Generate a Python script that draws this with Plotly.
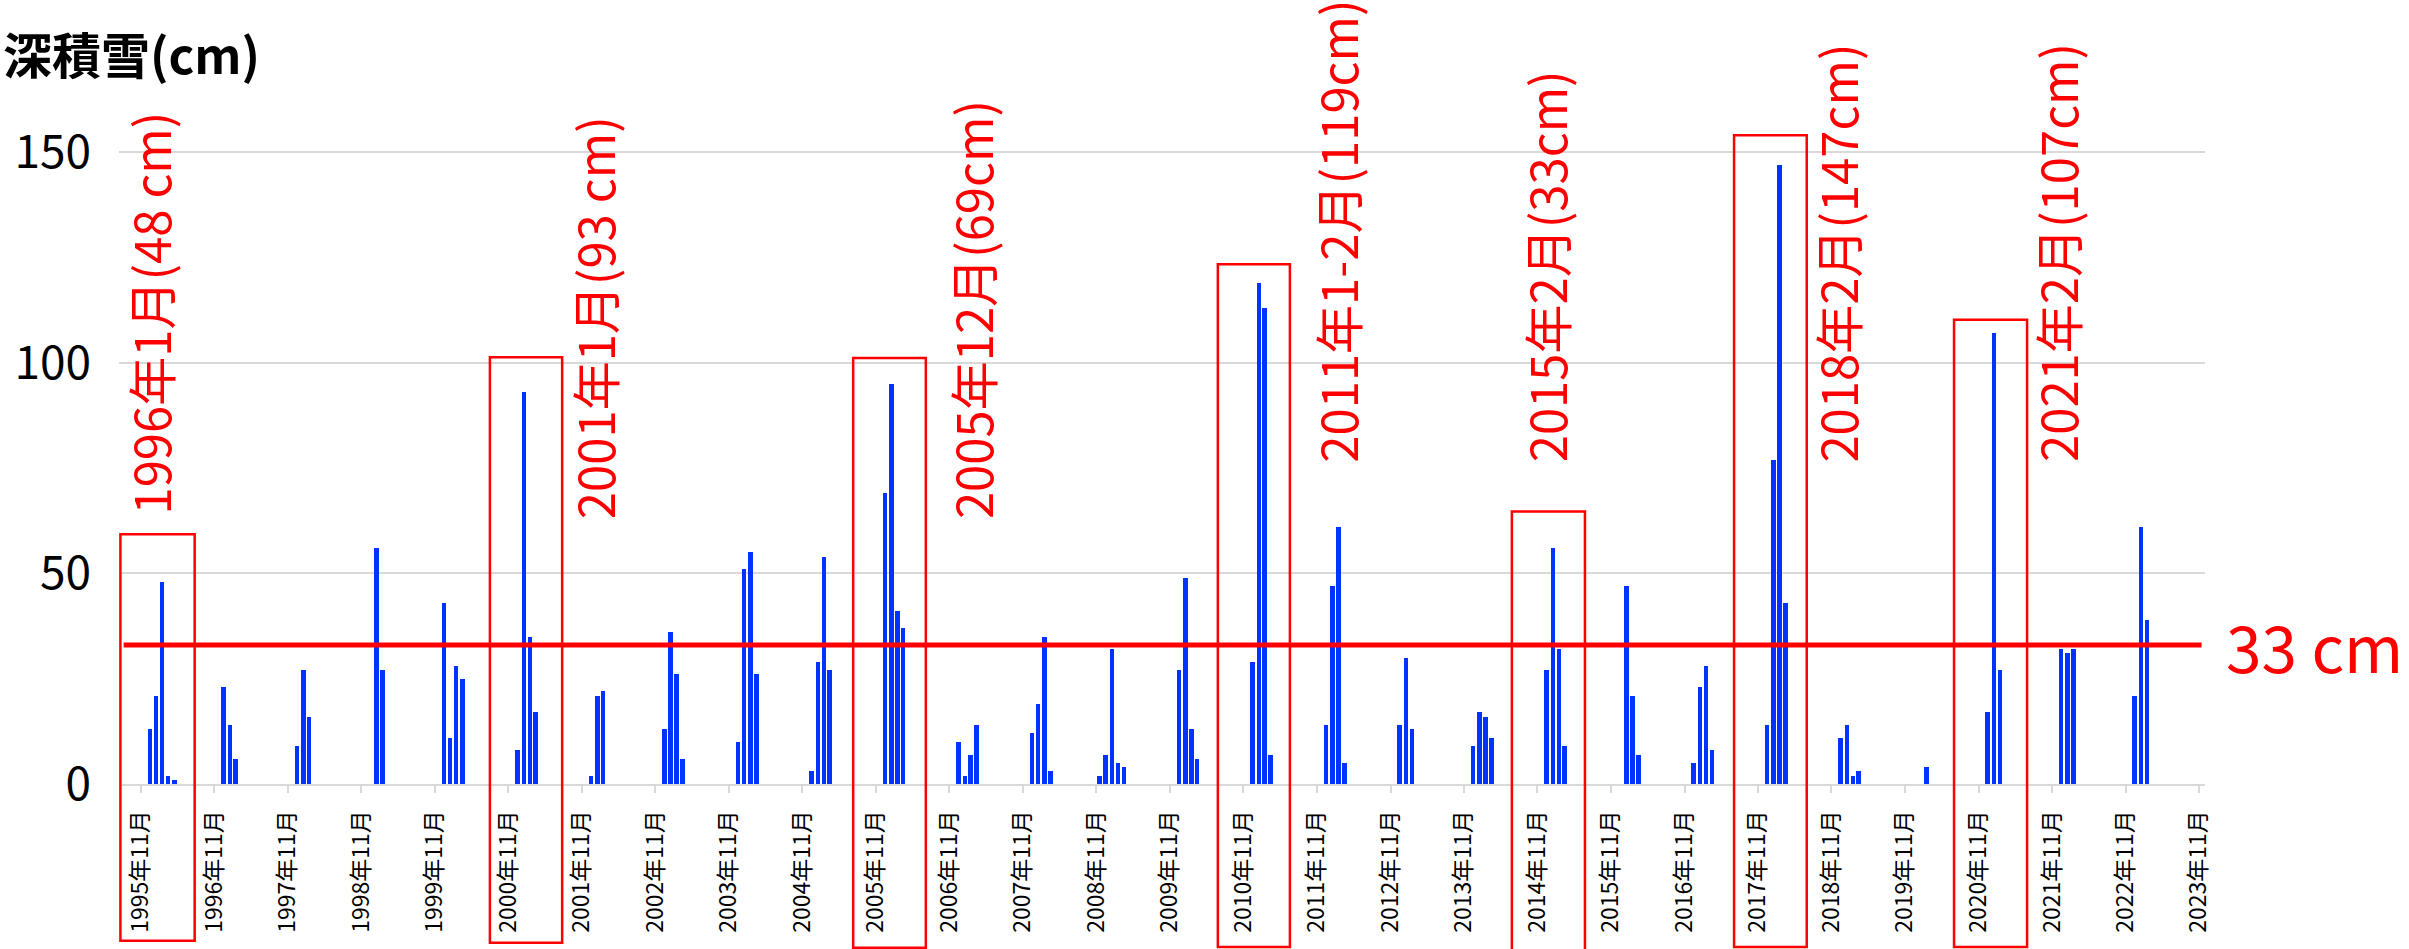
import plotly.graph_objects as go

FONT = "Noto Sans CJK JP"

# ---- data: monthly maximum snow depth (cm) ----
month = [
    "1995-12", "1996-01", "1996-02", "1996-03", "1996-04",
    "1996-12", "1997-01", "1997-02",
    "1997-12", "1998-01", "1998-02",
    "1999-01", "1999-02",
    "1999-12", "2000-01", "2000-02", "2000-03",
    "2000-12", "2001-01", "2001-02", "2001-03",
    "2001-12", "2002-01", "2002-02",
    "2002-12", "2003-01", "2003-02", "2003-03",
    "2003-12", "2004-01", "2004-02", "2004-03",
    "2004-12", "2005-01", "2005-02", "2005-03",
    "2005-12", "2006-01", "2006-02", "2006-03",
    "2006-12", "2007-01", "2007-02", "2007-03",
    "2007-12", "2008-01", "2008-02", "2008-03",
    "2008-11", "2008-12", "2009-01", "2009-02", "2009-03",
    "2009-12", "2010-01", "2010-02", "2010-03",
    "2010-12", "2011-01", "2011-02", "2011-03",
    "2011-12", "2012-01", "2012-02", "2012-03",
    "2012-12", "2013-01", "2013-02",
    "2013-12", "2014-01", "2014-02", "2014-03",
    "2014-12", "2015-01", "2015-02", "2015-03",
    "2016-01", "2016-02", "2016-03",
    "2016-12", "2017-01", "2017-02", "2017-03",
    "2017-12", "2018-01", "2018-02", "2018-03",
    "2018-12", "2019-01", "2019-02", "2019-03",
    "2020-02",
    "2020-12", "2021-01", "2021-02",
    "2021-12", "2022-01", "2022-02",
    "2022-12", "2023-01", "2023-02",
]
depth = [
    13, 21, 48, 2, 1,
    23, 14, 6,
    9, 27, 16,
    56, 27,
    43, 11, 28, 25,
    8, 93, 35, 17,
    2, 21, 22,
    13, 36, 26, 6,
    10, 51, 55, 26,
    3, 29, 54, 27,
    69, 95, 41, 37,
    10, 2, 7, 14,
    12, 19, 35, 3,
    2, 7, 32, 5, 4,
    27, 49, 13, 6,
    29, 119, 113, 7,
    14, 47, 61, 5,
    14, 30, 13,
    9, 17, 16, 11,
    27, 56, 32, 9,
    47, 21, 7,
    5, 23, 28, 8,
    14, 77, 147, 43,
    11, 14, 2, 3,
    4,
    17, 107, 27,
    32, 31, 32,
    21, 61, 39,
]

threshold = 33
threshold_label = "33 cm"
y_title = "深積雪(cm)"
y_ticks = [0, 50, 100, 150]

# highlighted seasons (red boxes)
box_start = ["1995-07-23", "2000-08-01", "2005-07-11", "2010-06-27",
             "2014-06-27", "2017-07-05", "2020-07-02"]
box_end = ["1996-07-26", "2001-07-26", "2006-07-07", "2011-06-20",
           "2015-06-25", "2018-07-01", "2021-06-30"]
box_top = [59.3, 101.3, 101.1, 123.4, 64.7, 154.0, 110.2]
box_bottom = [-37.2, -37.7, -38.9, -38.7, -42.0, -38.7, -38.7]

# annotation notes
note_text = ["1996年1月(48 cm)", "2001年1月(93 cm)", "2005年12月(69cm)",
             "2011年1-2月(119cm)", "2015年2月(33cm)", "2018年2月(147cm)",
             "2021年2月(107cm)"]
note_x = ["1996-01-15", "2002-01-27", "2007-03-22", "2012-03-09",
          "2015-01-07", "2018-12-27", "2021-12-26"]
note_y = [65.0, 63.8, 63.9, 77.3, 77.3, 77.3, 77.3]

Y_MAX = 160
DAY_MS = 86400000

fig = go.Figure()
fig.add_trace(go.Bar(
    x=month, y=depth,
    xperiod="M1", xperiodalignment="middle",
    width=22.5 * DAY_MS,
    marker=dict(color="#0033ff", line=dict(width=0)),
    showlegend=False,
))

shapes = []
# threshold line
shapes.append(dict(type="line", xref="x", yref="y",
                   x0="1995-08-08", x1="2023-11-14", y0=threshold, y1=threshold,
                   line=dict(color="#ff0000", width=5), layer="above"))
for s, e, t, b in zip(box_start, box_end, box_top, box_bottom):
    shapes.append(dict(type="rect", xref="x", yref="paper",
                       x0=s, x1=e, y0=b / Y_MAX, y1=t / Y_MAX,
                       line=dict(color="#ff0000", width=2.5),
                       fillcolor="rgba(0,0,0,0)", layer="above"))

annotations = []
for txt, x, y in zip(note_text, note_x, note_y):
    annotations.append(dict(text=txt, x=x, y=y, xref="x", yref="y",
                            textangle=-90, xanchor="center", yanchor="bottom",
                            xshift=-6, yshift=-6,
                            showarrow=False,
                            font=dict(family=FONT, size=49, color="#ff0000")))
annotations.append(dict(text=threshold_label, x=1.009, y=threshold,
                        xref="paper", yref="y", xanchor="left", yanchor="middle",
                        showarrow=False,
                        font=dict(family=FONT, size=64, color="#ff0000")))
annotations.append(dict(text="<b>" + y_title + "</b>", x=-0.0565, y=1.086,
                        xref="paper", yref="paper", xanchor="left", yanchor="middle",
                        showarrow=False,
                        font=dict(family=FONT, size=49, color="#000000")))

fig.update_layout(
    width=2409, height=949,
    margin=dict(l=119, r=204, t=110, b=165, pad=0),
    paper_bgcolor="white", plot_bgcolor="white",
    font=dict(family=FONT, color="#000000"),
    bargap=0,
    shapes=shapes,
    annotations=annotations,
    xaxis=dict(
        type="date",
        range=["1995-07-16", "2023-12-01"],
        tick0="1995-11-01", dtick="M12",
        tickformat="%Y年%m月",
        tickangle=-90,
        tickfont=dict(family=FONT, size=23, color="#000000"),
        ticks="outside", ticklen=7, tickwidth=2, tickcolor="#d9d9d9",
        ticklabelstandoff=8,
        showline=True, linecolor="#d9d9d9", linewidth=2,
        showgrid=False, zeroline=False,
    ),
    yaxis=dict(
        range=[0, Y_MAX],
        tickvals=y_ticks,
        tickfont=dict(family=FONT, size=46, color="#000000"),
        ticklabelstandoff=27,
        showgrid=True, gridcolor="#d9d9d9", gridwidth=1.5,
        zeroline=False, showline=False, ticks="",
    ),
)

fig.write_html("out.html",
               config={"displayModeBar": False},
               post_script="document.body.style.margin='0';document.body.style.overflow='hidden';")
